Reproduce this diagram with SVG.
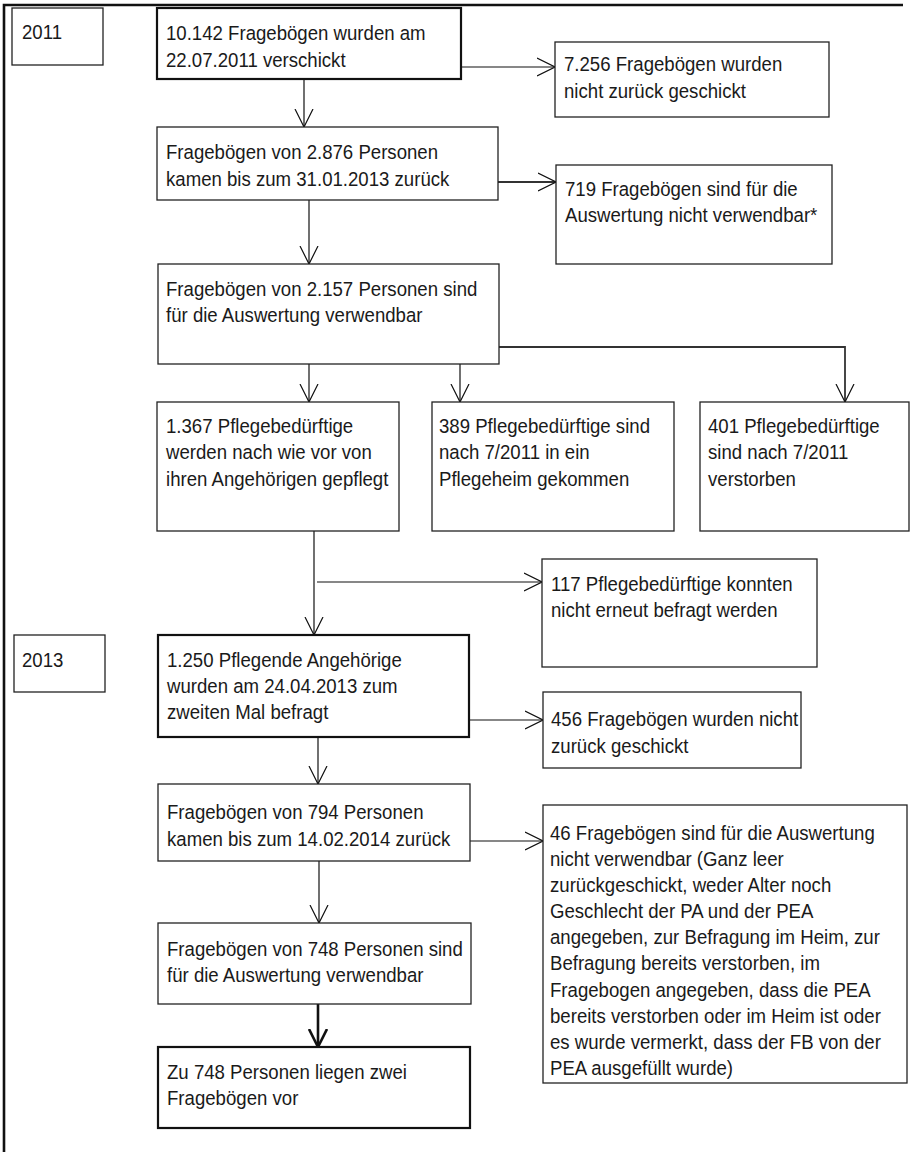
<svg xmlns="http://www.w3.org/2000/svg" width="911" height="1152" viewBox="0 0 911 1152">
<defs>
<style>
.b{fill:#fff;stroke:#222;stroke-width:1.3}
.bt{fill:#fff;stroke:#111;stroke-width:2.2}
.t{font-family:"Liberation Sans",Arial,sans-serif;font-size:19.5px;fill:#1a1a1a}
.c{fill:none;stroke:#111;stroke-width:1.2}
.ct{fill:none;stroke:#333;stroke-width:1.8}
.ck{fill:none;stroke:#111;stroke-width:2.6}
</style>
<marker id="a" viewBox="0 0 18 20" refX="18" refY="10" markerWidth="18" markerHeight="20" markerUnits="userSpaceOnUse" orient="auto">
<path d="M0,1 L18,10 L0,19" fill="none" stroke="#111" stroke-width="1.2"/>
</marker>
<marker id="ak" viewBox="0 0 18 20" refX="18" refY="10" markerWidth="18" markerHeight="20" markerUnits="userSpaceOnUse" orient="auto">
<path d="M0,1 L18,10 L0,19" fill="none" stroke="#111" stroke-width="2.6"/>
</marker>
</defs>
<rect width="911" height="1152" fill="#fff"/>
<g id="frame">
<path d="M4,1152 V5 H903" fill="none" stroke="#111" stroke-width="2.6"/>
</g>
<g id="connectors">
<path class="c" d="M304,79 V127" marker-end="url(#a)"/>
<path class="c" d="M461,67 H555" marker-end="url(#a)"/>
<path class="ct" d="M498,182 H556" marker-end="url(#a)"/>
<path class="c" d="M309,200 V264" marker-end="url(#a)"/>
<path class="c" d="M309,364 V402" marker-end="url(#a)"/>
<path class="c" d="M460,364 V402" marker-end="url(#a)"/>
<path class="ct" d="M499,347 H845 V402" marker-end="url(#a)"/>
<path class="c" d="M314,531 V635" marker-end="url(#a)"/>
<path class="c" d="M317,582 H542" marker-end="url(#a)"/>
<path class="c" d="M469,720 H543" marker-end="url(#a)"/>
<path class="c" d="M318,737 V784" marker-end="url(#a)"/>
<path class="c" d="M470,841 H543" marker-end="url(#a)"/>
<path class="c" d="M319,861 V923" marker-end="url(#a)"/>
<path class="ck" d="M318,1004 V1047" marker-end="url(#ak)"/>
</g>
<g id="n2011">
<rect class="b" x="12" y="8" width="91" height="57"/>
<text class="t" transform="matrix(0.955 0 0 1 22 39)">2011</text>
</g>
<g id="n1">
<rect class="bt" x="157" y="8" width="304" height="71"/>
<text class="t" transform="matrix(0.955 0 0 1 166 40)"><tspan x="0" y="0">10.142 Fragebögen wurden am</tspan><tspan x="0" y="27">22.07.2011 verschickt</tspan></text>
</g>
<g id="n7256">
<rect class="b" x="555" y="42" width="274" height="75"/>
<text class="t" transform="matrix(0.955 0 0 1 564 71)"><tspan x="0" y="0">7.256 Fragebögen wurden</tspan><tspan x="0" y="27">nicht zurück geschickt</tspan></text>
</g>
<g id="n2876">
<rect class="b" x="157" y="127" width="341" height="73"/>
<text class="t" transform="matrix(0.955 0 0 1 166 159)"><tspan x="0" y="0">Fragebögen von 2.876 Personen</tspan><tspan x="0" y="27">kamen bis zum 31.01.2013 zurück</tspan></text>
</g>
<g id="n719">
<rect class="b" x="556" y="165" width="276" height="99"/>
<text class="t" transform="matrix(0.955 0 0 1 565 196)"><tspan x="0" y="0">719 Fragebögen sind für die</tspan><tspan x="0" y="26">Auswertung nicht verwendbar*</tspan></text>
</g>
<g id="n2157">
<rect class="b" x="158" y="264" width="341" height="100"/>
<text class="t" transform="matrix(0.955 0 0 1 166 296)"><tspan x="0" y="0">Fragebögen von 2.157 Personen sind</tspan><tspan x="0" y="26">für die Auswertung verwendbar</tspan></text>
</g>
<g id="n1367">
<rect class="b" x="157" y="402" width="242" height="129"/>
<text class="t" transform="matrix(0.955 0 0 1 166 433)"><tspan x="0" y="0">1.367 Pflegebedürftige</tspan><tspan x="0" y="26.5">werden nach wie vor von</tspan><tspan x="0" y="53">ihren Angehörigen gepflegt</tspan></text>
</g>
<g id="n389">
<rect class="b" x="432" y="402" width="242" height="129"/>
<text class="t" transform="matrix(0.955 0 0 1 439 433)"><tspan x="0" y="0">389 Pflegebedürftige sind</tspan><tspan x="0" y="26.5">nach 7/2011 in ein</tspan><tspan x="0" y="53">Pflegeheim gekommen</tspan></text>
</g>
<g id="n401">
<rect class="b" x="700" y="402" width="209" height="129"/>
<text class="t" transform="matrix(0.955 0 0 1 708 433)"><tspan x="0" y="0">401 Pflegebedürftige</tspan><tspan x="0" y="26.5">sind nach 7/2011</tspan><tspan x="0" y="53">verstorben</tspan></text>
</g>
<g id="n117">
<rect class="b" x="542" y="559" width="275" height="108"/>
<text class="t" transform="matrix(0.955 0 0 1 551 591)"><tspan x="0" y="0">117 Pflegebedürftige konnten</tspan><tspan x="0" y="26">nicht erneut befragt werden</tspan></text>
</g>
<g id="n2013">
<rect class="b" x="14" y="635" width="91" height="57"/>
<text class="t" transform="matrix(0.955 0 0 1 22 667)">2013</text>
</g>
<g id="n1250">
<rect class="bt" x="158" y="635" width="311" height="102"/>
<text class="t" transform="matrix(0.955 0 0 1 167 667)"><tspan x="0" y="0">1.250 Pflegende Angehörige</tspan><tspan x="0" y="26">wurden am 24.04.2013 zum</tspan><tspan x="0" y="52">zweiten Mal befragt</tspan></text>
</g>
<g id="n456">
<rect class="b" x="543" y="692" width="258" height="76"/>
<text class="t" transform="matrix(0.955 0 0 1 551 726)"><tspan x="0" y="0">456 Fragebögen wurden nicht</tspan><tspan x="0" y="27">zurück geschickt</tspan></text>
</g>
<g id="n794">
<rect class="b" x="158" y="784" width="312" height="77"/>
<text class="t" transform="matrix(0.955 0 0 1 167 819)"><tspan x="0" y="0">Fragebögen von 794 Personen</tspan><tspan x="0" y="27">kamen bis zum 14.02.2014 zurück</tspan></text>
</g>
<g id="n46">
<rect class="b" x="543" y="805" width="364" height="278"/>
<text class="t" transform="matrix(0.955 0 0 1 550 840)"><tspan x="0" y="0">46 Fragebögen sind für die Auswertung</tspan><tspan x="0" y="26.1">nicht verwendbar (Ganz leer</tspan><tspan x="0" y="52.2">zurückgeschickt, weder Alter noch</tspan><tspan x="0" y="78.3">Geschlecht der PA und der PEA</tspan><tspan x="0" y="104.4">angegeben, zur Befragung im Heim, zur</tspan><tspan x="0" y="130.5">Befragung bereits verstorben, im</tspan><tspan x="0" y="156.6">Fragebogen angegeben, dass die PEA</tspan><tspan x="0" y="182.7">bereits verstorben oder im Heim ist oder</tspan><tspan x="0" y="208.8">es wurde vermerkt, dass der FB von der</tspan><tspan x="0" y="234.9">PEA ausgefüllt wurde)</tspan></text>
</g>
<g id="n748a">
<rect class="b" x="158" y="923" width="313" height="81"/>
<text class="t" transform="matrix(0.955 0 0 1 167 956)"><tspan x="0" y="0">Fragebögen von 748 Personen sind</tspan><tspan x="0" y="26">für die Auswertung verwendbar</tspan></text>
</g>
<g id="n748b">
<rect class="bt" x="158" y="1047" width="312" height="81"/>
<text class="t" transform="matrix(0.955 0 0 1 167 1079)"><tspan x="0" y="0">Zu 748 Personen liegen zwei</tspan><tspan x="0" y="26">Fragebögen vor</tspan></text>
</g>
</svg>
